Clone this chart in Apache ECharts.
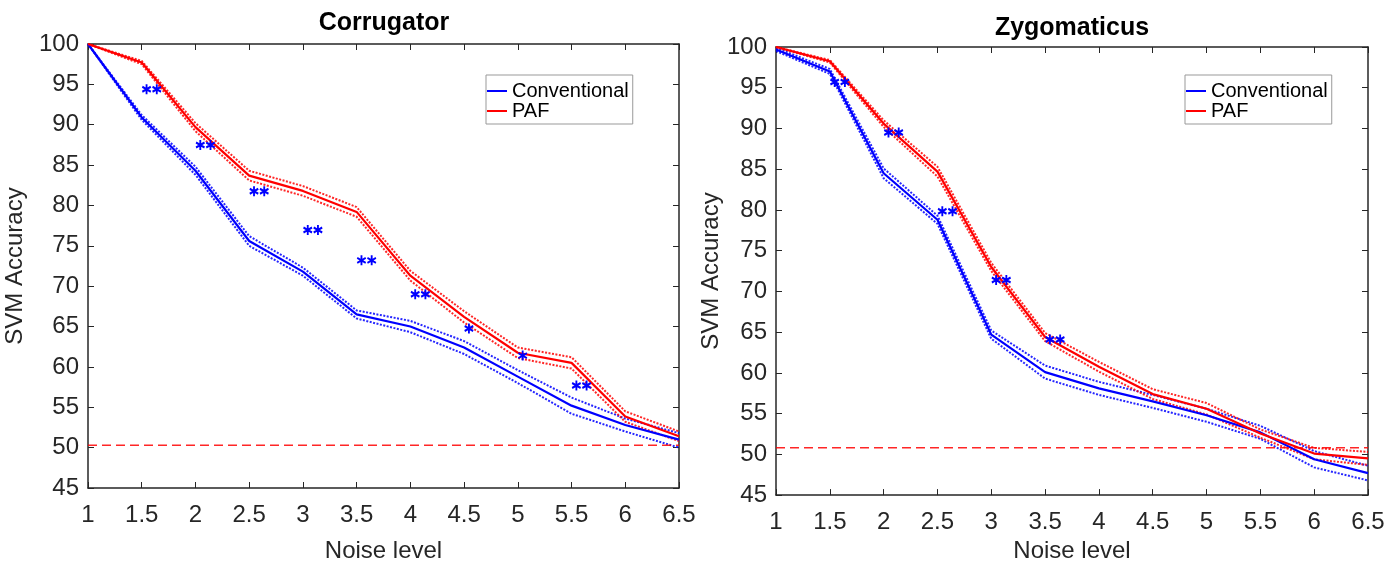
<!DOCTYPE html>
<html>
<head>
<meta charset="utf-8">
<title>SVM Accuracy vs Noise level</title>
<script src="https://cdn.jsdelivr.net/npm/echarts@6/dist/echarts.min.js"></script>
<style>
    html, body {margin: 0; padding: 0; background: #fff;}
    #main {width: 1394px; height: 568px;}
</style>
</head>
<body>
<div id="main"></div>
<script>
// noise levels (x axis)
var noiseLevels = [1, 1.5, 2, 2.5, 3, 3.5, 4, 4.5, 5, 5.5, 6, 6.5];

// Corrugator
var corrConv   = [100, 90.9, 84.3, 75.6, 71.8, 66.5, 65.0, 62.4, 58.8, 55.2, 52.8, 51.0];
var corrConvHi = [100, 91.2, 84.8, 76.2, 72.3, 67.0, 65.7, 63.2, 59.6, 56.2, 53.6, 51.8];
var corrConvLo = [100, 90.6, 83.8, 75.0, 71.3, 66.0, 64.3, 61.6, 58.0, 54.2, 52.0, 50.0];
var corrPaf    = [100, 97.7, 89.7, 83.7, 81.8, 79.2, 71.3, 66.2, 61.75, 60.5, 53.85, 51.4];
var corrPafHi  = [100, 97.9, 90.2, 84.3, 82.4, 79.8, 71.9, 66.9, 62.4, 61.2, 54.5, 52.0];
var corrPafLo  = [100, 97.5, 89.2, 83.1, 81.2, 78.6, 70.7, 65.5, 61.1, 59.8, 53.2, 50.8];
var corrChance = 50.3;
var corrSigX = [1.5, 2, 2.5, 3, 3.5, 4, 4.5, 5, 5.5];
var corrSigY = [94.4, 87.5, 81.75, 76.97, 73.2, 69.0, 64.75, 61.4, 57.7];
var corrSigN = [2, 2, 2, 2, 2, 2, 1, 1, 2];

// Zygomaticus
var zygConv   = [99.7, 97.0, 84.5, 78.8, 64.7, 60.1, 58.1, 56.5, 54.8, 52.7, 49.4, 47.7];
var zygConvHi = [99.9, 97.3, 85.1, 79.3, 65.2, 60.9, 58.9, 57.3, 55.6, 53.5, 50.4, 48.6];
var zygConvLo = [99.5, 96.7, 83.9, 78.3, 64.2, 59.3, 57.3, 55.7, 54.0, 51.9, 48.4, 46.8];
var zygPaf    = [100, 98.25, 90.6, 84.7, 73.0, 64.4, 60.75, 57.4, 55.6, 52.55, 50.1, 49.5];
var zygPafHi  = [100, 98.4, 91.0, 85.3, 73.5, 64.9, 61.35, 58.0, 56.3, 53.05, 50.8, 50.3];
var zygPafLo  = [100, 98.1, 90.2, 84.1, 72.5, 63.9, 60.15, 56.8, 54.9, 52.05, 49.4, 48.7];
var zygChance = 50.8;
var zygSigX = [1.5, 2, 2.5, 3, 3.5];
var zygSigY = [95.7, 89.5, 79.85, 71.4, 64.1];
var zygSigN = [2, 2, 2, 2, 2];

var BLUE = '#0000ff';
var RED = '#ff0000';
var AXIS = '#262626';
var FONT = 'Liberation Sans';
var STAR = 'path://M0,-10L0,10M-8.66,-5L8.66,5M-8.66,5L8.66,-5';

function pairs(ys) {
    var out = [];
    for (var i = 0; i < noiseLevels.length; i++) {
        out.push([noiseLevels[i], ys[i]]);
    }
    return out;
}

function starPoints(xs, ys, ns) {
    var out = [];
    for (var i = 0; i < xs.length; i++) {
        for (var k = 0; k < ns[i]; k++) {
            out.push([xs[i] + 0.045 + k * 0.095, ys[i]]);
        }
    }
    return out;
}

function lineSeries(name, data, color, idx, dotted) {
    return {
        name: name,
        type: 'line',
        xAxisIndex: idx,
        yAxisIndex: idx,
        data: pairs(data),
        symbol: 'none',
        silent: true,
        z: dotted ? 2 : 3,
        lineStyle: dotted
            ? {color: color, width: 2, type: [2, 1.5], opacity: 0.85}
            : {color: color, width: 2.2},
        itemStyle: {color: color}
    };
}

function panelSeries(idx, conv, convHi, convLo, paf, pafHi, pafLo, chance, sx, sy, sn) {
    return [
        lineSeries('Conventional', conv, BLUE, idx, false),
        lineSeries('PAF', paf, RED, idx, false),
        lineSeries('conv-hi', convHi, BLUE, idx, true),
        lineSeries('conv-lo', convLo, BLUE, idx, true),
        lineSeries('paf-hi', pafHi, RED, idx, true),
        lineSeries('paf-lo', pafLo, RED, idx, true),
        {
            name: 'chance',
            type: 'line',
            xAxisIndex: idx,
            yAxisIndex: idx,
            data: [[noiseLevels[0], chance], [noiseLevels[noiseLevels.length - 1], chance]],
            symbol: 'none',
            silent: true,
            lineStyle: {color: RED, width: 1.5, type: [9, 5], opacity: 0.85}
        },
        {
            name: 'sig',
            type: 'scatter',
            xAxisIndex: idx,
            yAxisIndex: idx,
            data: starPoints(sx, sy, sn),
            symbol: STAR,
            symbolSize: [8.5, 10],
            silent: true,
            z: 5,
            itemStyle: {color: 'rgba(0,0,0,0)', borderColor: BLUE, borderWidth: 2, opacity: 1}
        }
    ];
}

function xAxes(idx, nameGap) {
    return [
        {
            gridIndex: idx, type: 'value', min: 1, max: 6.5, interval: 0.5,
            name: 'Noise level', nameLocation: 'middle', nameGap: nameGap,
            nameTextStyle: {fontFamily: FONT, fontSize: 24, color: AXIS},
            axisLine: {lineStyle: {color: AXIS, width: 1.5}},
            axisTick: {inside: true, length: 6, lineStyle: {color: AXIS}},
            axisLabel: {fontFamily: FONT, fontSize: 24, color: AXIS, margin: 15,
                showMinLabel: true, showMaxLabel: true},
            splitLine: {show: false}
        },
        {
            gridIndex: idx, type: 'value', min: 1, max: 6.5, interval: 0.5, position: 'top',
            axisLine: {lineStyle: {color: AXIS, width: 1.5}},
            axisTick: {inside: true, length: 6, lineStyle: {color: AXIS}},
            axisLabel: {show: false},
            splitLine: {show: false}
        }
    ];
}

function yAxes(idx, nameGap) {
    return [
        {
            gridIndex: idx, type: 'value', min: 45, max: 100, interval: 5,
            name: 'SVM Accuracy', nameLocation: 'middle', nameGap: nameGap,
            nameTextStyle: {fontFamily: FONT, fontSize: 24, color: AXIS},
            axisLine: {show: true, lineStyle: {color: AXIS, width: 1.5}},
            axisTick: {show: true, inside: true, length: 6, lineStyle: {color: AXIS}},
            axisLabel: {fontFamily: FONT, fontSize: 24, color: AXIS, margin: 9,
                showMinLabel: true, showMaxLabel: true},
            splitLine: {show: false}
        },
        {
            gridIndex: idx, type: 'value', min: 45, max: 100, interval: 5, position: 'right',
            axisLine: {show: true, lineStyle: {color: AXIS, width: 1.5}},
            axisTick: {show: true, inside: true, length: 6, lineStyle: {color: AXIS}},
            axisLabel: {show: false},
            splitLine: {show: false}
        }
    ];
}

function legendAt(left, top) {
    return {
        data: ['Conventional', 'PAF'],
        orient: 'vertical',
        left: left,
        top: top,
        icon: 'rect',
        itemWidth: 20,
        itemHeight: 2,
        itemGap: 0,
        padding: [6, 4, 3, 1],
        borderColor: '#999',
        borderWidth: 1,
        selectedMode: false,
        textStyle: {fontFamily: FONT, fontSize: 20, color: '#000', lineHeight: 19}
    };
}

var myChart = echarts.init(document.getElementById('main'));

var xa = xAxes(0, 51).concat(xAxes(1, 41));
var ya = yAxes(0, 61).concat(yAxes(1, 53));
// axis index mapping: 0 = bottom/left of panel 1, 2 = bottom/left of panel 2
xa[2].gridIndex = 1; xa[3].gridIndex = 1;
ya[2].gridIndex = 1; ya[3].gridIndex = 1;

var series = panelSeries(0, corrConv, corrConvHi, corrConvLo, corrPaf, corrPafHi, corrPafLo,
        corrChance, corrSigX, corrSigY, corrSigN)
    .concat(panelSeries(2, zygConv, zygConvHi, zygConvLo, zygPaf, zygPafHi, zygPafLo,
        zygChance, zygSigX, zygSigY, zygSigN));

var option = {
    animation: false,
    backgroundColor: '#fff',
    title: [
        {text: 'Corrugator', left: 384, top: 11, textAlign: 'center', padding: 0,
            textStyle: {fontFamily: FONT, fontSize: 25, fontWeight: 'bold', color: '#000'}},
        {text: 'Zygomaticus', left: 1072, top: 16, textAlign: 'center', padding: 0,
            textStyle: {fontFamily: FONT, fontSize: 25, fontWeight: 'bold', color: '#000'}}
    ],
    legend: [legendAt(486, 75), legendAt(1185, 75)],
    grid: [
        {left: 88, right: 715, top: 44, bottom: 78},
        {left: 776, right: 26, top: 47, bottom: 67}
    ],
    xAxis: xa,
    yAxis: ya,
    series: series
};

myChart.setOption(option);
</script>
</body>
</html>
